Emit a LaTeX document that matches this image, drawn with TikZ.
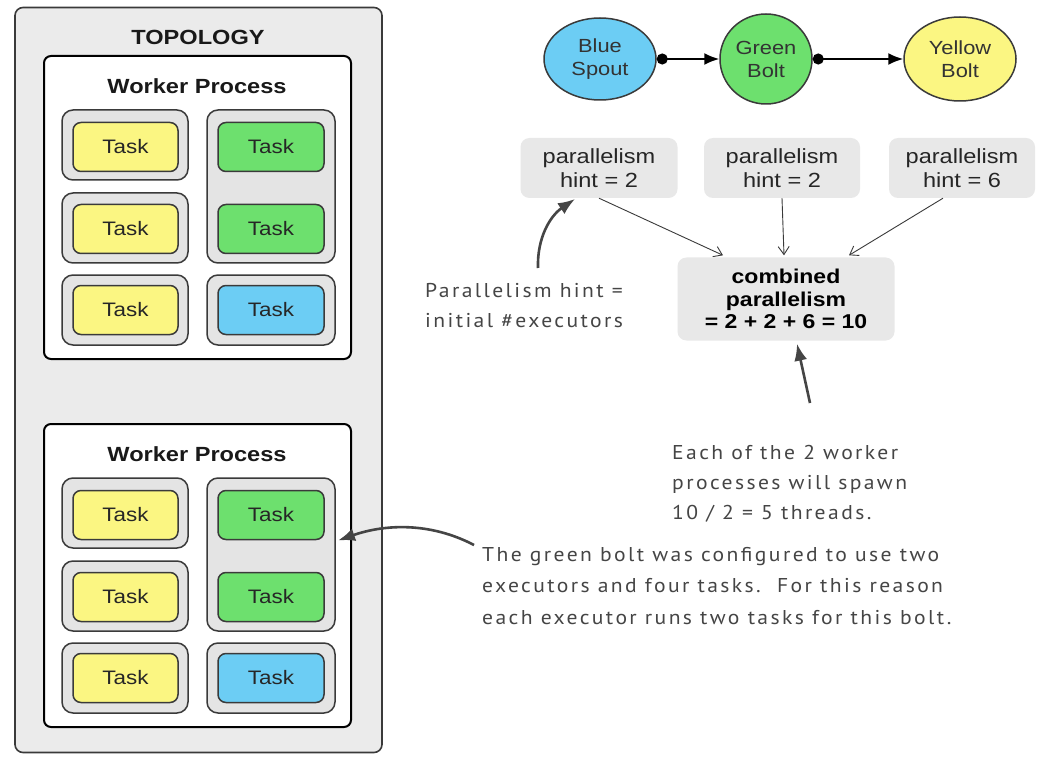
\documentclass[tikz,border=0pt]{standalone}
\usepackage{fontspec}
\setmainfont{Liberation Sans}[FakeStretch=1.15]
\newfontfamily\hand{PT Sans}[LetterSpace=12,FakeStretch=1.08]
\usetikzlibrary{arrows.meta,shapes.geometric,calc}
\definecolor{topofill}{HTML}{EBEBEB}
\definecolor{execfill}{HTML}{E4E4E4}
\definecolor{hintfill}{HTML}{E8E8E8}
\definecolor{taskyellow}{HTML}{FBF682}
\definecolor{taskgreen}{HTML}{6DE06E}
\definecolor{taskblue}{HTML}{6CCDF4}
\definecolor{edgegray}{HTML}{3A3A3A}
\definecolor{notegray}{HTML}{454545}

\tikzset{
  topobox/.style={draw=edgegray, line width=1.6pt, fill=topofill, rounded corners=8pt, inner sep=0pt},
  workerbox/.style={draw=black, line width=2pt, fill=white, rounded corners=7pt, inner sep=0pt, minimum width=307pt},
  execbox/.style={draw=edgegray, line width=1.5pt, fill=execfill, rounded corners=11pt, inner sep=0pt},
  taskbox/.style={draw=edgegray, line width=1.5pt, rounded corners=8pt, inner sep=0pt,
    minimum height=49pt, font=\fontsize{19.5}{22}\selectfont, text=black!85},
  title/.style={font=\fontsize{20.5}{24}\selectfont\bfseries, text=black!90},
  compnode/.style={ellipse, draw=edgegray, line width=1.5pt, inner sep=0pt, align=center,
    font=\fontsize{19}{23}\selectfont, text=black!80},
  hintbox/.style={fill=hintfill, rounded corners=9pt, inner sep=0pt, minimum height=60pt,
    align=center, font=\fontsize{20.5}{24}\selectfont, text=black!85},
  flow/.style={line width=1.8pt, draw=black, {Circle[length=11pt]}-{Latex[length=15pt,width=12pt]}},
  hintarrow/.style={line width=0.9pt, draw=edgegray, -{Straight Barb[length=8pt,width=11pt]}},
  note/.style={line width=2.6pt, draw=notegray, -{Latex[length=17pt,width=13pt]}},
  notetext/.style={align=left, inner sep=0pt, text=notegray, font=\hand\fontsize{20}{30}\selectfont}
}

% One worker process box with its six tasks, shifted down by #2
\newcommand{\workerproc}[2]{%
  \begin{scope}[shift={(0,#2)}]
    \node[workerbox, minimum height=303pt] (#1) at (197.5,207.5) {};
    \node[title] (#1title) at (197,86) {Worker Process};
    % executors of the left column
    \node[execbox, minimum width=126pt, minimum height=70pt] (#1e1) at (125,145) {};
    \node[execbox, minimum width=126pt, minimum height=70pt] (#1e2) at (125,228) {};
    \node[execbox, minimum width=126pt, minimum height=70pt] (#1e3) at (125,310) {};
    % executors of the right column
    \node[execbox, minimum width=128pt, minimum height=153pt] (#1e4) at (271,186.5) {};
    \node[execbox, minimum width=128pt, minimum height=70pt] (#1e5) at (271,310) {};
    % tasks
    \node[taskbox, fill=taskyellow, minimum width=105pt] (#1t1) at (125.5,147) {Task};
    \node[taskbox, fill=taskyellow, minimum width=105pt] (#1t2) at (125.5,229) {Task};
    \node[taskbox, fill=taskyellow, minimum width=105pt] (#1t3) at (125.5,310) {Task};
    \node[taskbox, fill=taskgreen, minimum width=106pt] (#1t4) at (271,147) {Task};
    \node[taskbox, fill=taskgreen, minimum width=106pt] (#1t5) at (271,229) {Task};
    \node[taskbox, fill=taskblue, minimum width=106pt] (#1t6) at (271,310) {Task};
  \end{scope}}

\begin{document}
\begin{tikzpicture}[x=1pt,y=-1pt]
\useasboundingbox[fill=white] (0,0) rectangle (1038,759);

% topology container
\node[topobox, minimum width=367pt, minimum height=745pt] (topo) at (198.5,380) {};
\node[title, font=\fontsize{20.5}{24}\selectfont\bfseries] (topotitle) at (198,37) {TOPOLOGY};

\workerproc{wa}{0}
\workerproc{wb}{368}

% spout and bolts
\node[compnode, fill=taskblue, minimum width=112pt, minimum height=82pt] (spout) at (600,59) {Blue\\Spout};
\node[compnode, fill=taskgreen, minimum width=92pt, minimum height=90pt] (gbolt) at (766,59) {Green\\Bolt};
\node[compnode, fill=taskyellow, minimum width=112pt, minimum height=84pt] (ybolt) at (960,59) {Yellow\\Bolt};
\draw[flow] (spout) -- (gbolt);
\draw[flow] (gbolt) -- (ybolt);

% parallelism hints
\node[hintbox, minimum width=157pt] (h1) at (599,168) {parallelism\\hint = 2};
\node[hintbox, minimum width=156pt] (h2) at (782,168) {parallelism\\hint = 2};
\node[hintbox, minimum width=146pt] (h3) at (962,168) {parallelism\\hint = 6};

\node[hintbox, minimum width=217pt, minimum height=83pt,
      font=\fontsize{20}{22.5}\selectfont\bfseries, text=black] (comb) at (786,299)
      {combined\\parallelism\\= 2 + 2 + 6 = 10};

\draw[hintarrow] (h1.south) -- ($(comb.north)+(-63,-2)$);
\draw[hintarrow] (h2.south) -- ($(comb.north)+(-2,-2)$);
\draw[hintarrow] ($(h3.south)+(-19,0)$) -- ($(comb.north)+(63,-2)$);

% hand-written notes
\node[notetext, anchor=west] (n1) at (425,306) {Parallelism hint =\\initial \#executors};
\node[notetext, anchor=west] (n2) at (672,484) {Each of the 2 worker\\processes will spawn\\10 / 2 = 5 threads.};
\node[notetext, anchor=west, font=\hand\fontsize{20}{31.5}\selectfont] (n3) at (482,586)
  {The green bolt was configured to use two\\executors and four tasks.\ \ For this reason\\each executor runs two tasks for this bolt.};

\coordinate (n1start) at (538,268);
\coordinate (n1tip) at (575,199);
\draw[note] (n1start) .. controls (537,238) and (550,216) .. (n1tip);

\coordinate (n2start) at (810,403);
\draw[note] (n2start) -- ($(comb.south)+(11,3)$);

\coordinate (n3start) at (474,545);
\draw[note] (n3start) .. controls (430,522) and (385,524) .. ($(wb.east)+(-14,-35)$);
\end{tikzpicture}
\end{document}
